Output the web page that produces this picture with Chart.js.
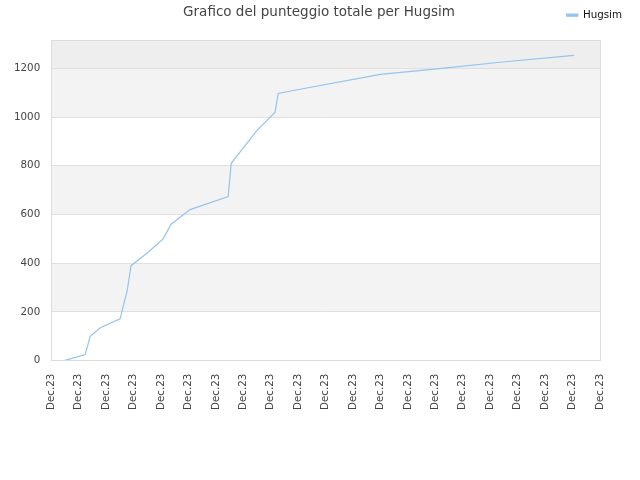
<!DOCTYPE html>
<html>
<head>
<meta charset="utf-8">
<script src="https://cdn.jsdelivr.net/npm/chart.js@4.4.0/dist/chart.umd.min.js"></script>
<style>
  html, body { margin: 0; padding: 0; background: #fff; }
  #wrap { width: 640px; height: 480px; }
</style>
</head>
<body>
<div id="wrap"><canvas id="scoreChart" width="640" height="480"></canvas></div>
<script>
// Data
const chartTitle = 'Grafico del punteggio totale per Hugsim';
const playerName = 'Hugsim';
const tickLabel = 'Dec.23';
const tickCount = 21;
const pointPos = [0.47, 1.24, 1.42, 1.79, 2.51, 2.77, 2.91, 3.53, 4.08, 4.37, 5.06, 6.45, 6.56, 7.50, 8.16, 8.27, 9.07, 11.99, 14.06, 16.36, 19.05];
const scores   = [0, 25, 100, 135, 172, 288, 390, 445, 500, 560, 620, 674, 810, 945, 1020, 1097, 1114, 1175, 1198, 1225, 1253];
const yTicks = [0, 200, 400, 600, 800, 1000, 1200];
const yMax = 1315;

document.addEventListener('DOMContentLoaded', function() {
    const ctx = document.getElementById('scoreChart');
    const lineColor = '#94c3ef';
    const smallFont = { family: 'DejaVu Sans', size: 10.3 };

    // alternating background bands, frame and title
    const bandPlugin = {
        id: 'bands',
        beforeDraw: function(chart) {
            const area = chart.chartArea;
            const y = chart.scales.y;
            const c = chart.ctx;
            c.save();
            c.fillStyle = '#ffffff';
            c.fillRect(area.left, area.top, area.right - area.left, area.bottom - area.top);
            for (let i = 0; i < yTicks.length; i++) {
                const from = yTicks[i];
                const to = i + 1 < yTicks.length ? yTicks[i + 1] : yMax;
                let color = null;
                if (i === yTicks.length - 1) color = '#eeeeee';
                else if (i % 2 === 1) color = '#f3f3f3';
                if (!color) continue;
                const top = y.getPixelForValue(to);
                const bottom = y.getPixelForValue(from);
                c.fillStyle = color;
                c.fillRect(area.left, top, area.right - area.left, bottom - top);
            }
            c.restore();
        },
        afterDraw: function(chart) {
            const area = chart.chartArea;
            const c = chart.ctx;
            c.save();
            c.strokeStyle = '#dcdcdc';
            c.lineWidth = 1;
            c.strokeRect(Math.round(area.left) + 0.5, Math.round(area.top) + 0.5,
                Math.round(area.right - area.left), Math.round(area.bottom - area.top));
            c.fillStyle = '#444444';
            c.font = '13.5px "DejaVu Sans"';
            c.textAlign = 'center';
            c.textBaseline = 'middle';
            c.fillText(chartTitle, 319, 12);
            c.restore();
        }
    };

    new Chart(ctx, {
        type: 'line',
        data: {
            datasets: [{
                label: playerName,
                data: pointPos.map((p, i) => ({ x: p, y: scores[i] })),
                xAxisID: 'x',
                yAxisID: 'y',
                borderColor: lineColor,
                backgroundColor: lineColor,
                borderWidth: 1.2,
                pointRadius: 0,
                tension: 0,
                fill: false
            }]
        },
        options: {
            responsive: false,
            animation: false,
            devicePixelRatio: 1,
            layout: {
                padding: { left: 3, right: 10, top: 2, bottom: 57 }
            },
            scales: {
                x: {
                    type: 'linear',
                    min: 0,
                    max: tickCount - 1,
                    grid: { display: false, drawTicks: false },
                    border: { display: false },
                    ticks: {
                        stepSize: 1,
                        autoSkip: false,
                        maxRotation: 90,
                        minRotation: 90,
                        padding: 13,
                        color: '#444444',
                        font: smallFont,
                        callback: function() { return tickLabel; }
                    }
                },
                y: {
                    min: 0,
                    max: yMax,
                    afterBuildTicks: function(scale) {
                        scale.ticks = yTicks.map(v => ({ value: v }));
                    },
                    grid: { color: '#e0e0e0', drawTicks: false },
                    border: { display: false },
                    ticks: {
                        padding: 11,
                        color: '#444444',
                        font: smallFont,
                        callback: function(v) { return String(v); }
                    }
                },
                // spacers so the plot frame sits where the reference has it
                xTop: {
                    type: 'linear',
                    position: 'top',
                    display: true,
                    grid: { display: false, drawTicks: false },
                    border: { display: false },
                    ticks: { display: false },
                    afterFit: function(scale) { scale.height = 10; }
                },
                yRight: {
                    type: 'linear',
                    position: 'right',
                    display: true,
                    grid: { display: false, drawTicks: false },
                    border: { display: false },
                    ticks: { display: false },
                    afterFit: function(scale) { scale.width = 30; }
                }
            },
            plugins: {
                title: { display: false },
                tooltip: { enabled: false },
                legend: {
                    position: 'top',
                    align: 'end',
                    labels: {
                        boxWidth: 11,
                        boxHeight: 2,
                        padding: 8,
                        color: '#111111',
                        font: smallFont
                    }
                }
            }
        },
        plugins: [bandPlugin]
    });
});
</script>
</body>
</html>
